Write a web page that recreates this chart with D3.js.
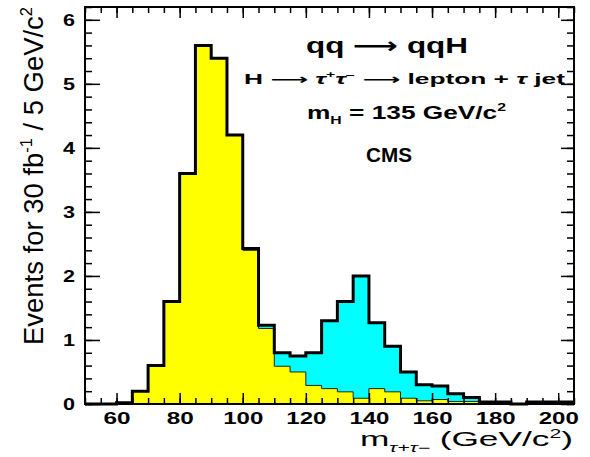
<!DOCTYPE html>
<html>
<head>
<meta charset="utf-8">
<script src="https://cdn.jsdelivr.net/npm/d3@7"></script>
<style>
  body { margin: 0; background: #fff; }
  svg { display: block; font-family: "Liberation Sans", Arial, "DejaVu Sans", sans-serif; }
</style>
</head>
<body>
<svg width="590" height="457"></svg>
<script>
// bin edges (GeV/c^2), 5 GeV bins
const binEdges = [50, 55, 60, 65, 70, 75, 80, 85, 90, 95, 100, 105, 110, 115, 120, 125,
  130, 135, 140, 145, 150, 155, 160, 165, 170, 175, 180, 185, 190, 195, 200, 205];

// background (yellow), events per bin
const background = [0, 0, 0.02, 0.2, 0.6, 1.6, 3.6, 5.6, 5.4, 4.2, 2.4, 1.18, 0.59, 0.5, 0.29, 0.24,
  0.19, 0.09, 0.24, 0.19, 0.09, 0.05, 0.07, 0.04, 0.04, 0.03, 0.03, 0, 0.03, 0.03, 0.03];

// H -> tau tau signal (cyan), stacked on background
const signal = [0, 0, 0, 0, 0, 0, 0, 0, 0, 0, 0.03, 0.05, 0.21, 0.25, 0.51, 1.06,
  1.41, 1.91, 1.03, 0.71, 0.41, 0.25, 0.21, 0.12, 0.06, 0, 0, 0, 0, 0, 0];

const xMajor = [60, 80, 100, 120, 140, 160, 180, 200];
const yMajor = [0, 1, 2, 3, 4, 5, 6];

const svg = d3.select('svg');
const frameL = 85, frameR = 574, frameT = 7, frameB = 404;

const x = d3.scaleLinear().domain([50, 205]).range([frameL, frameR]);
const y = d3.scaleLinear().domain([0, 6.2]).range([frameB, frameT]);

// build step points: one per bin start plus closing edge
const bins = background.map((b, i) => ({
  x0: binEdges[i], bg: b, tot: b + signal[i]
}));
const last = bins[bins.length - 1];
const stepPts = bins.concat([{ x0: binEdges[binEdges.length - 1], bg: last.bg, tot: last.tot }]);

const area = key => d3.area()
  .curve(d3.curveStepAfter)
  .x(d => x(d.x0))
  .y0(y(0))
  .y1(d => y(d[key]));

const line = key => d3.line()
  .curve(d3.curveStepAfter)
  .x(d => x(d.x0))
  .y(d => y(d[key]));

// cyan = total
svg.append('path')
  .attr('d', area('tot')(stepPts))
  .attr('fill', '#00ffff');

// yellow = background
svg.append('path')
  .attr('d', area('bg')(stepPts))
  .attr('fill', '#ffff00');
svg.append('path')
  .attr('d', line('bg')(stepPts))
  .attr('fill', 'none')
  .attr('stroke', '#222')
  .attr('stroke-width', 1);

// thick outline of the sum
svg.append('path')
  .attr('d', line('tot')(stepPts))
  .attr('fill', 'none')
  .attr('stroke', '#000')
  .attr('stroke-width', 3)
  .attr('stroke-linejoin', 'miter');

// axes, ticks drawn inward
const xMinor = d3.range(50, 206, 5);
const yMinor = d3.range(0, 6.21, 0.2);

const styleAxis = g => {
  g.select('.domain').remove();
  g.selectAll('line').attr('stroke', '#000').attr('stroke-width', 1.5);
};

svg.append('g').attr('transform', `translate(0,${frameB})`)
  .call(d3.axisBottom(x).tickValues(xMinor).tickSize(-6).tickFormat(''))
  .call(styleAxis);
const xAx = svg.append('g').attr('transform', `translate(0,${frameB})`)
  .call(d3.axisBottom(x).tickValues(xMajor).tickSize(-11).tickPadding(9))
  .call(styleAxis);
xAx.selectAll('text')
  .attr('fill', '#000')
  .attr('font-size', 16)
  .attr('font-weight', 'bold')
  .attr('font-family', '"Liberation Sans", Arial, sans-serif')
  .attr('textLength', d => String(d).length === 3 ? 40 : 27)
  .attr('lengthAdjust', 'spacingAndGlyphs');

svg.append('g').attr('transform', `translate(0,${frameT})`)
  .call(d3.axisTop(x).tickValues(xMinor).tickSize(-6).tickFormat(''))
  .call(styleAxis);
svg.append('g').attr('transform', `translate(0,${frameT})`)
  .call(d3.axisTop(x).tickValues(xMajor).tickSize(-11).tickFormat(''))
  .call(styleAxis);

svg.append('g').attr('transform', `translate(${frameL},0)`)
  .call(d3.axisLeft(y).tickValues(yMinor).tickSize(-7).tickFormat(''))
  .call(styleAxis);
const yAx = svg.append('g').attr('transform', `translate(${frameL},0)`)
  .call(d3.axisLeft(y).tickValues(yMajor).tickSize(-15).tickPadding(10).tickFormat(d3.format('d')))
  .call(styleAxis);
yAx.selectAll('text')
  .attr('fill', '#000')
  .attr('font-size', 17)
  .attr('font-weight', 'bold')
  .attr('font-family', '"Liberation Sans", Arial, sans-serif')
  .attr('textLength', 12)
  .attr('lengthAdjust', 'spacingAndGlyphs');

svg.append('g').attr('transform', `translate(${frameR},0)`)
  .call(d3.axisRight(y).tickValues(yMinor).tickSize(-7).tickFormat(''))
  .call(styleAxis);
svg.append('g').attr('transform', `translate(${frameR},0)`)
  .call(d3.axisRight(y).tickValues(yMajor).tickSize(-13).tickFormat(''))
  .call(styleAxis);

// frame
svg.append('rect')
  .attr('x', frameL).attr('y', frameT)
  .attr('width', frameR - frameL).attr('height', frameB - frameT)
  .attr('fill', 'none')
  .attr('stroke', '#000')
  .attr('stroke-width', 2);

// text with sub/superscripts
function richText(parent, opts, parts) {
  const t = parent.append('text')
    .attr('x', opts.x || 0).attr('y', opts.y || 0)
    .attr('font-size', opts.size)
    .attr('font-weight', opts.weight || 'normal')
    .attr('fill', '#000');
  let shift = 0;
  parts.forEach(p => {
    const part = typeof p === 'string' ? { t: p } : p;
    const target = part.sup ? -0.42 * opts.size : part.sub ? 0.28 * opts.size : 0;
    t.append('tspan')
      .attr('dy', target - shift)
      .attr('font-size', (part.sup || part.sub) ? opts.size * 0.6 : opts.size)
      .attr('font-style', part.it ? 'italic' : null)
      .text(part.t);
    shift = target;
  });
  if (opts.width) t.attr('textLength', opts.width).attr('lengthAdjust', 'spacingAndGlyphs');
  return t;
}

// y title
const yTitle = svg.append('g').attr('transform', 'translate(43,345) rotate(-90)');
richText(yTitle, { size: 27, width: 338 },
  ['Events for 30 fb', { t: '-1', sup: true }, ' / 5 GeV/c', { t: '2', sup: true }]);

// x title
richText(svg, { x: 360, y: 446, size: 20, width: 213 },
  ['m', { t: 'τ+τ−', sub: true, it: true }, ' (GeV/c', { t: '2', sup: true }, ')']);

// annotations
richText(svg, { x: 306, y: 53, size: 22, width: 162, weight: 'bold' },
  ['qq ⟶ qqH']);
richText(svg, { x: 244, y: 84, size: 14, width: 321, weight: 'bold' },
  ['H ⟶ ', { t: 'τ', it: true }, { t: '+', sup: true }, { t: 'τ', it: true }, { t: '−', sup: true },
   ' ⟶ lepton + ', { t: 'τ', it: true }, ' jet']);
richText(svg, { x: 307, y: 119, size: 18, width: 199, weight: 'bold' },
  ['m', { t: 'H', sub: true }, ' = 135 GeV/c', { t: '2', sup: true }]);
richText(svg, { x: 366, y: 162, size: 20, width: 46, weight: 'bold' },
  ['CMS']);
</script>
</body>
</html>
